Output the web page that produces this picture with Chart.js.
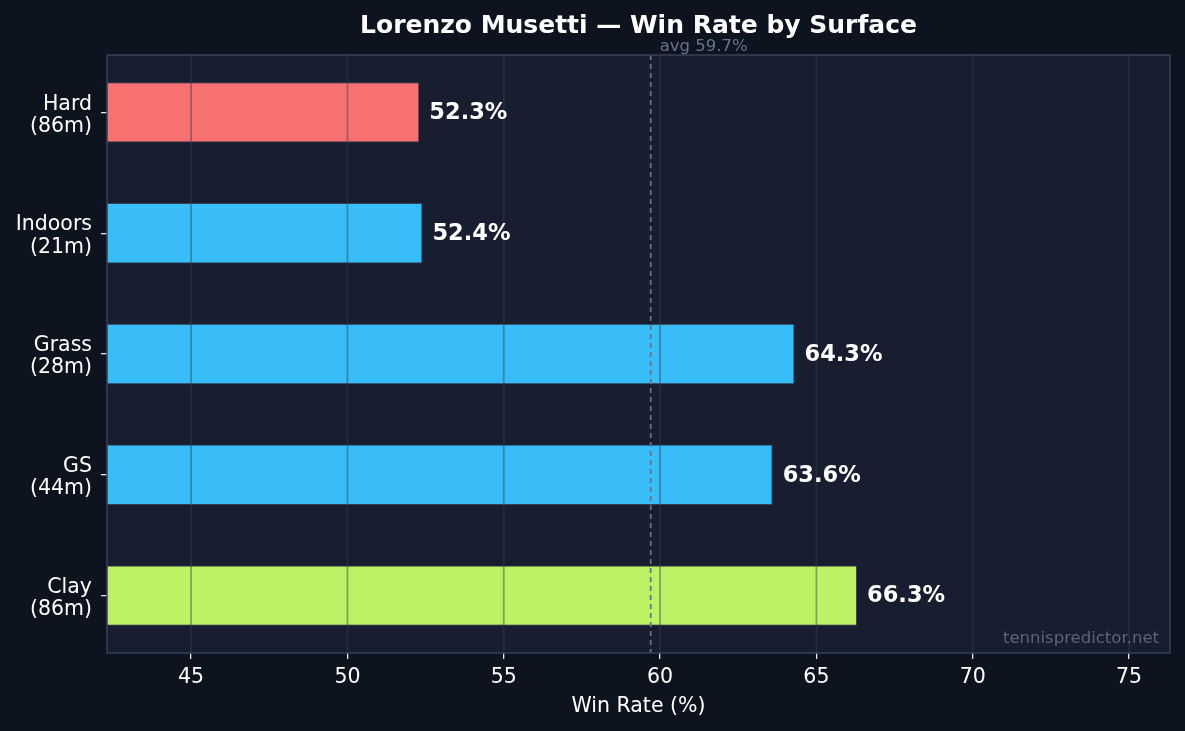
<!DOCTYPE html>
<html>
<head>
<meta charset="utf-8">
<script src="https://cdn.jsdelivr.net/npm/chart.js@4.4.1/dist/chart.umd.min.js"></script>
<style>
  html, body { margin: 0; padding: 0; background: #0e1320; }
  #wrap { width: 1185px; height: 731px; }
</style>
</head>
<body>
<div id="wrap"><canvas id="myChart" width="1185" height="731"></canvas></div>
<script>
const surfaces = ['Hard', 'Indoors', 'Grass', 'GS', 'Clay'];
const matches = [86, 21, 28, 44, 86];
const winRates = [52.3, 52.4, 64.3, 63.6, 66.3];
const barColors = ['#f87171', '#38bdf8', '#38bdf8', '#38bdf8', '#bef264'];
const xTicks = [45, 50, 55, 60, 65, 70, 75];
const avgRate = 59.7;

const FONT = "'DejaVu Sans', sans-serif";

// plot background, grid on top of bars, avg line, labels, frame
const decor = {
  id: 'decor',
  beforeDatasetsDraw(chart) {
    const { ctx, chartArea: a } = chart;
    ctx.save();
    ctx.fillStyle = '#181d2f';
    ctx.fillRect(a.left, a.top, a.right - a.left, a.bottom - a.top);
    ctx.restore();
  },
  afterDatasetsDraw(chart) {
    const { ctx, chartArea: a, scales } = chart;
    const x = scales.x;
    ctx.save();
    // vertical grid lines drawn over the bars
    ctx.strokeStyle = 'rgba(51, 65, 85, 0.45)';
    ctx.lineWidth = 1.8;
    xTicks.forEach(v => {
      const px = x.getPixelForValue(v);
      ctx.beginPath();
      ctx.moveTo(px, a.top);
      ctx.lineTo(px, a.bottom);
      ctx.stroke();
    });
    // average line
    const ax = x.getPixelForValue(avgRate);
    ctx.strokeStyle = '#64748b';
    ctx.setLineDash([5, 4]);
    ctx.lineWidth = 1.8;
    ctx.beginPath();
    ctx.moveTo(ax, a.top);
    ctx.lineTo(ax, a.bottom);
    ctx.stroke();
    ctx.setLineDash([]);
    ctx.fillStyle = '#64748b';
    ctx.font = '16.5px ' + FONT;
    ctx.textAlign = 'left';
    ctx.textBaseline = 'bottom';
    ctx.fillText('avg ' + avgRate + '%', ax + 9, a.top);
    // value labels
    const meta = chart.getDatasetMeta(0);
    ctx.fillStyle = '#ffffff';
    ctx.font = 'bold 22.5px ' + FONT;
    ctx.textBaseline = 'middle';
    meta.data.forEach((bar, i) => {
      ctx.fillText(winRates[i].toFixed(1) + '%', bar.x + 10, bar.y + 1);
    });
    // watermark
    ctx.fillStyle = '#5b6678';
    ctx.font = '16.5px ' + FONT;
    ctx.textAlign = 'right';
    ctx.textBaseline = 'alphabetic';
    ctx.fillText('tennispredictor.net', a.right - 11, a.bottom - 10);
    // frame
    ctx.strokeStyle = '#334155';
    ctx.lineWidth = 1.5;
    ctx.strokeRect(a.left, a.top, a.right - a.left, a.bottom - a.top);
    // title
    ctx.fillStyle = '#ffffff';
    ctx.font = 'bold 25px ' + FONT;
    ctx.textAlign = 'center';
    ctx.textBaseline = 'middle';
    ctx.fillText('Lorenzo Musetti \u2014 Win Rate by Surface', (a.left + a.right) / 2, 26);
    ctx.restore();
  }
};

const ctx = document.getElementById('myChart').getContext('2d');
const myChart = new Chart(ctx, {
  type: 'bar',
  data: {
    datasets: [{
      data: winRates.map((v, i) => ({ x: v, y: i })),
      backgroundColor: barColors,
      borderColor: '#334155',
      borderWidth: 1,
      borderSkipped: false,
      categoryPercentage: 1,
      barPercentage: 0.5
    }]
  },
  options: {
    indexAxis: 'y',
    responsive: false,
    animation: false,
    layout: { padding: { top: 55, right: 15, left: 0, bottom: 0 } },
    plugins: {
      legend: { display: false },
      title: { display: false },
      tooltip: { enabled: false }
    },
    scales: {
      x: {
        type: 'linear',
        min: 42.31,
        max: 76.31,
        afterBuildTicks(scale) {
          scale.ticks = xTicks.map(v => ({ value: v }));
        },
        afterFit(scale) { scale.height = 78; },
        border: { display: false },
        grid: { drawOnChartArea: false, drawTicks: true, tickLength: 6, tickColor: '#e5e7eb', lineWidth: 1.3 },
        ticks: { color: '#ffffff', font: { family: FONT, size: 20.5 }, padding: 6 },
        title: {
          display: true,
          text: 'Win Rate (%)',
          color: '#ffffff',
          font: { family: FONT, size: 20.5 },
          padding: { top: 0, bottom: 12 }
        }
      },
      y: {
        type: 'linear',
        reverse: true,
        offset: false,
        min: -0.475,
        max: 4.475,
        afterBuildTicks(scale) {
          scale.ticks = surfaces.map((s, i) => ({ value: i }));
        },
        afterFit(scale) { scale.width = 107; },
        border: { display: false },
        grid: { offset: false, drawOnChartArea: false, drawTicks: true, tickLength: 6, tickColor: '#e5e7eb', lineWidth: 1.3 },
        ticks: {
          color: '#ffffff',
          font: { family: FONT, size: 20.5, lineHeight: 1.08 },
          padding: 9,
          labelOffset: 3,
          callback: (v) => [surfaces[v], '(' + matches[v] + 'm)']
        }
      }
    }
  },
  plugins: [decor]
});
</script>
</body>
</html>
